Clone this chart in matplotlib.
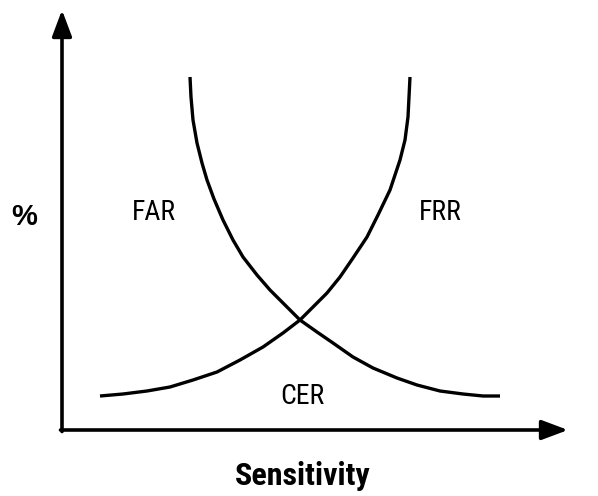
import matplotlib
matplotlib.use("Agg")
import matplotlib.pyplot as plt
from matplotlib import font_manager

# pick a condensed / narrow face if one is installed
cands = []
for f in font_manager.fontManager.ttflist:
    n = f.name
    st = str(f.stretch)
    if "Narrow" in n or "Condensed" in n or st in ("condensed", "semi-condensed", "extra-condensed"):
        cands.append(f)
NARROW = None
for pref in ["Liberation Sans Narrow", "Roboto Condensed", "Open Sans Condensed", "DejaVu Sans Condensed"]:
    if any(c.name == pref for c in cands):
        NARROW = pref
        break
STRETCH = "normal"
if NARROW is None:
    if any(c.name == "DejaVu Sans" for c in cands):
        NARROW = "DejaVu Sans"
        STRETCH = "condensed"
    else:
        NARROW = "Roboto"

# Sensitivity (x) and error-rate % (y), origin at the axes corner
far_x = [128, 129, 131, 135, 140, 145, 152, 161, 171, 181, 195, 208, 221, 238,
         255, 271, 291, 311, 335, 355, 378, 401, 421, 438]
far_y = [353, 333, 310, 287, 267, 250, 231, 210, 190, 173, 155, 140, 127, 110,
         98, 87, 73, 62, 52, 45, 39, 36, 34, 34]
frr_x = [38, 61, 85, 108, 131, 155, 178, 201, 221, 238, 251, 265, 278, 291,
         305, 316, 328, 338, 343, 346, 347, 348]
frr_y = [34, 36, 39, 43, 50, 58, 70, 83, 97, 110, 123, 137, 153, 172,
         193, 215, 240, 270, 290, 313, 333, 353]

labels = ["FAR", "FRR", "CER"]
label_x = [92, 378, 240]
label_y = [218, 218, 34]

fig = plt.figure(figsize=(5.98, 4.96), dpi=100)
ax = fig.add_axes([0, 0, 1, 1])
ax.set_xlim(-62, 536)
ax.set_ylim(-66, 430)
ax.axis("off")

ax.plot(far_x, far_y, color="black", lw=2.4, solid_capstyle="butt", solid_joinstyle="round")
ax.plot(frr_x, frr_y, color="black", lw=2.4, solid_capstyle="butt", solid_joinstyle="round")

arrow = dict(arrowstyle="-|>,head_length=0.8,head_width=0.3", lw=2.6,
             color="black", mutation_scale=20, shrinkA=0, shrinkB=0)
ax.annotate("", xy=(0, 420), xytext=(0, -1.5), arrowprops=arrow)
ax.annotate("", xy=(506, 0), xytext=(-1.5, 0), arrowprops=arrow)

for t, x, y in zip(labels, label_x, label_y):
    ax.text(x, y, t, ha="center", va="center", fontsize=20,
            family=[NARROW, "DejaVu Sans"], fontstretch=STRETCH)

ax.text(-38, 213, "%", ha="center", va="center", fontsize=21, fontweight="bold",
        family=["Liberation Sans", "DejaVu Sans"])
ax.text(241, -46, "Sensitivity", ha="center", va="center", fontsize=23,
        fontweight="bold", family=[NARROW, "DejaVu Sans"], fontstretch=STRETCH)

fig.savefig("out.png", dpi=100, facecolor="white")
